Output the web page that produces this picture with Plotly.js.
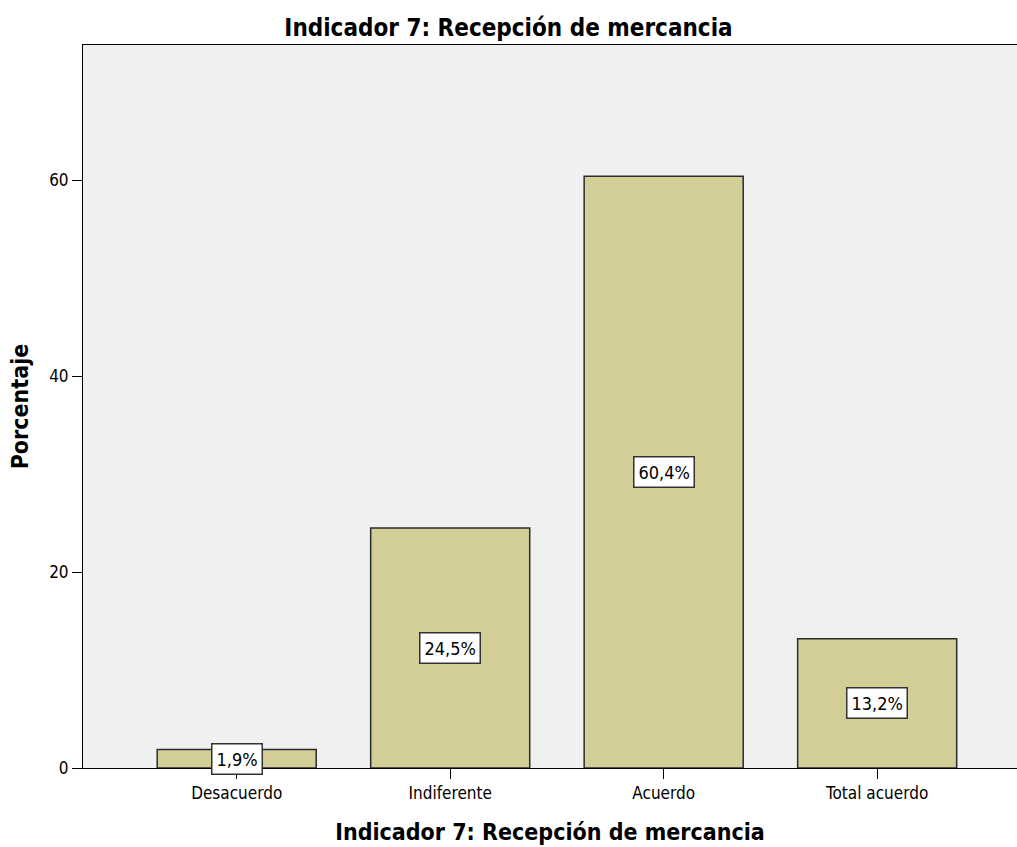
<!DOCTYPE html>
<html>
<head>
<meta charset="utf-8">
<script src="https://cdn.plot.ly/plotly-3.0.1.min.js"></script>
<style>html,body{margin:0;padding:0;background:#fff;}#chart{width:1017px;height:847px;}</style>
</head>
<body>
<div id="chart"></div>
<script>
const categories = ["Desacuerdo", "Indiferente", "Acuerdo", "Total acuerdo"];
const percentages = [1.9, 24.5, 60.4, 13.2];
const labels = ["1,9%", "24,5%", "60,4%", "13,2%"];
const yTicks = [0, 20, 40, 60];

const FONT = "'DejaVu Sans Condensed', 'Liberation Sans Narrow', Arial, sans-serif";

const trace = {
  type: "bar",
  x: categories.map((c, i) => i),
  y: percentages,
  width: 0.745,
  marker: { color: "#d3cd98", line: { color: "#2b2b2b", width: 1.5 } },
  hoverinfo: "skip"
};

const annotations = categories.map((c, i) => ({
  x: i, y: percentages[i] / 2, xref: "x", yref: "y",
  text: labels[i], showarrow: false,
  font: { family: FONT, size: 18, color: "#000" },
  bgcolor: "#ffffff", bordercolor: "#333333", borderwidth: 1.5, borderpad: 4
}));

const layout = {
  width: 1017, height: 847,
  margin: { l: 83, r: 0, t: 45, b: 79 },
  paper_bgcolor: "#ffffff",
  plot_bgcolor: "#f0f0f0",
  showlegend: false,
  title: { text: "<b>Indicador 7: Recepción de mercancia</b>", x: 0.5, xanchor: "center", y: 0.968, yanchor: "middle",
           font: { family: FONT, size: 24, color: "#000" } },
  xaxis: {
    range: [-0.72, 3.655],
    tickvals: categories.map((c, i) => i),
    ticktext: categories,
    ticks: "outside", ticklen: 10, tickcolor: "#000", tickwidth: 1,
    showline: true, linecolor: "#000", linewidth: 1, mirror: true,
    showgrid: false, zeroline: false,
    tickfont: { family: FONT, size: 17, color: "#000" },
    title: { text: "<b>Indicador 7: Recepción de mercancia</b>", standoff: 21,
             font: { family: FONT, size: 23, color: "#000" } }
  },
  yaxis: {
    range: [0, 73.8],
    tickvals: yTicks,
    ticks: "outside", ticklen: 10, tickcolor: "#000", tickwidth: 1,
    showline: true, linecolor: "#000", linewidth: 1, mirror: true,
    showgrid: false, zeroline: false,
    tickfont: { family: FONT, size: 17, color: "#000" },
    title: { text: "<b>Porcentaje</b>", standoff: 14,
             font: { family: FONT, size: 23, color: "#000" } }
  },
  annotations: annotations
};

Plotly.newPlot("chart", [trace], layout, { displayModeBar: false, staticPlot: true });
</script>
</body>
</html>
